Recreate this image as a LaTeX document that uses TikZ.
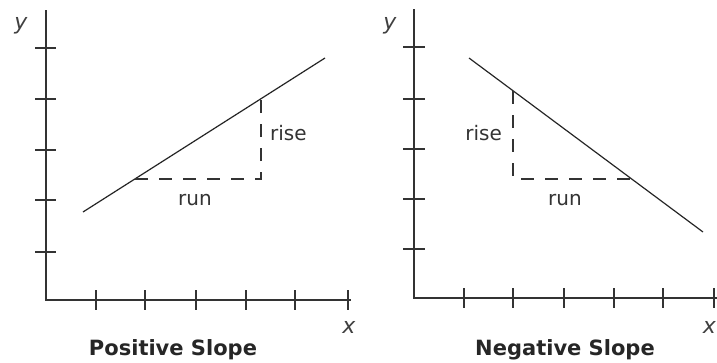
\documentclass[tikz,border=0pt]{standalone}
\usepackage{fontspec}
\setmainfont{DejaVu Sans}
\usepackage{tikz}

\begin{document}
\begin{tikzpicture}[x=1pt, y=-1pt, line cap=butt]
  \useasboundingbox (0,0) rectangle (717,362);
  \tikzset{
    axisline/.style={black!80, line width=1.5pt},
    tickline/.style={black!80, line width=1.4pt},
    slopeline/.style={black!85, line width=1.2pt},
    guideline/.style={black!80, line width=1.2pt, dash pattern=on 13pt off 11pt},
    steplabel/.style={font=\fontsize{20}{22}\selectfont, text=black!80, inner sep=0pt, anchor=base},
    axislabel/.style={font=\fontsize{22}{24}\selectfont\itshape, text=black!75, inner sep=0pt, anchor=base},
    paneltitle/.style={font=\fontsize{21}{23}\selectfont\bfseries, text=black!85, inner sep=0pt, anchor=base}
  }
  % ---------- positive slope ----------
  \coordinate (pO) at (46,300);
  \coordinate (pTop) at (46,10);
  \coordinate (pEnd) at (351,300);
  \draw[axisline] (pTop) -- (pO) -- (pEnd);
  \draw[tickline]
    (35,48) -- (56,48)  (35,99) -- (56,99)  (35,150) -- (56,150)
    (35,200) -- (56,200)  (35,252) -- (56,252);
  \draw[tickline]
    (96,290) -- (96,310)  (145,290) -- (145,310)  (196,290) -- (196,310)
    (246,290) -- (246,310)  (295,290) -- (295,310)  (348,290) -- (348,310);
  \coordinate (pA) at (83,212);
  \coordinate (pB) at (325,58);
  \coordinate (pRunStart) at (135,179);
  \coordinate (pCorner) at (261,179);
  \coordinate (pRiseEnd) at (261,99);
  \draw[slopeline] (pA) -- (pB);
  \draw[guideline] (pRunStart) -- (pCorner) -- (pRiseEnd);
  \node[steplabel, anchor=base west] (pRise) at (270,140) {rise};
  \node[steplabel] (pRun) at (195,205) {run};
  \node[axislabel] (pY) at (21,29) {y};
  \node[axislabel] (pX) at (349,333) {x};
  \node[paneltitle] (pTitle) at (173,355) {Positive Slope};
  % ---------- negative slope ----------
  \coordinate (nO) at (414,298);
  \coordinate (nTop) at (414,9);
  \coordinate (nEnd) at (717,298);
  \draw[axisline] (nTop) -- (nO) -- (nEnd);
  \draw[tickline]
    (403,47) -- (425,47)  (403,99) -- (425,99)  (403,149) -- (425,149)
    (403,199) -- (425,199)  (403,249) -- (425,249);
  \draw[tickline]
    (464,288) -- (464,308)  (513,288) -- (513,308)  (564,288) -- (564,308)
    (614,288) -- (614,308)  (663,288) -- (663,308)  (714,288) -- (714,308);
  \coordinate (nA) at (469,58);
  \coordinate (nB) at (703,232);
  \coordinate (nRiseStart) at (513,91);
  \coordinate (nCorner) at (513,179);
  \coordinate (nRunEnd) at (631,179);
  \draw[slopeline] (nA) -- (nB);
  \draw[guideline] (nRiseStart) -- (nCorner) -- (nRunEnd);
  \node[steplabel, anchor=base east] (nRise) at (502,140) {rise};
  \node[steplabel] (nRun) at (565,205) {run};
  \node[axislabel] (nY) at (390,29) {y};
  \node[axislabel, anchor=base east] (nX) at (716,333) {x};
  \node[paneltitle] (nTitle) at (565,355) {Negative Slope};
\end{tikzpicture}
\end{document}
